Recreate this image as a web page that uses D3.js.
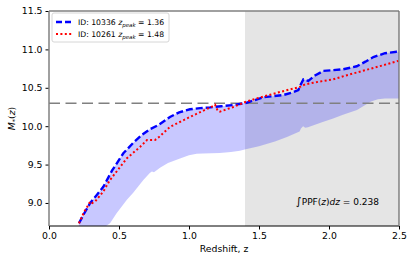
<!DOCTYPE html>
<html lang="en">
<meta charset="utf-8">
<script src="https://d3js.org/d3.v7.min.js"></script>
<style>
  body { margin: 0; background: #fff; }
  text { font-family: "DejaVu Sans", sans-serif; fill: #000; }
  .axis text { font-size: 9.3px; }
</style>
<svg id="base" width="415" height="263"></svg>

<script>
// redshift / stellar mass
var zBlue = [0.214, 0.25, 0.293, 0.34, 0.388, 0.45, 0.531, 0.6, 0.662, 0.72, 0.781, 0.864, 0.93, 1.007, 1.08, 1.15, 1.23, 1.317, 1.412, 1.436, 1.531, 1.6, 1.674, 1.74, 1.781, 1.8, 1.817, 1.835, 1.852, 1.9, 1.96, 2.03, 2.1, 2.198, 2.26, 2.317, 2.4, 2.483, 2.5];
var mBlue = [8.735, 8.86, 8.996, 9.1, 9.21, 9.42, 9.647, 9.78, 9.885, 9.96, 10.015, 10.12, 10.18, 10.22, 10.235, 10.245, 10.26, 10.275, 10.305, 10.32, 10.376, 10.39, 10.406, 10.44, 10.47, 10.55, 10.61, 10.6, 10.59, 10.66, 10.72, 10.73, 10.74, 10.78, 10.84, 10.9, 10.95, 10.97, 10.97];

var zRed = [0.214, 0.25, 0.28, 0.295, 0.31, 0.33, 0.388, 0.436, 0.5, 0.555, 0.65, 0.7, 0.757, 0.786, 0.864, 0.94, 1.007, 1.1, 1.17, 1.186, 1.205, 1.221, 1.317, 1.41, 1.48, 1.579, 1.66, 1.745, 1.79, 1.83, 1.93, 2.03, 2.12, 2.22, 2.36, 2.495];
var mRed = [8.735, 8.88, 8.97, 9.02, 9.0, 9.02, 9.15, 9.3, 9.45, 9.58, 9.73, 9.82, 9.82, 9.86, 9.99, 10.06, 10.12, 10.2, 10.26, 10.28, 10.2, 10.19, 10.25, 10.32, 10.36, 10.41, 10.45, 10.49, 10.51, 10.545, 10.58, 10.61, 10.66, 10.71, 10.78, 10.85];

// lower edge of the shaded band (upper edge is the blue curve)
var zLow = [0.2, 0.3, 0.4, 0.436, 0.483, 0.555, 0.6, 0.674, 0.72, 0.735, 0.75, 0.793, 0.85, 0.936, 1.0, 1.055, 1.1, 1.22, 1.3, 1.364, 1.405, 1.5, 1.614, 1.7, 1.79, 1.8, 1.815, 1.83, 1.85, 1.95, 2.03, 2.1, 2.2, 2.3, 2.35, 2.4, 2.5];
var mLow = [8.15, 8.45, 8.69, 8.735, 8.865, 9.04, 9.13, 9.3, 9.39, 9.41, 9.4, 9.46, 9.52, 9.58, 9.62, 9.64, 9.645, 9.65, 9.665, 9.68, 9.7, 9.74, 9.8, 9.86, 9.93, 9.97, 10.0, 9.98, 9.985, 10.05, 10.1, 10.15, 10.21, 10.32, 10.35, 10.36, 10.36];

var xTicks = [0.0, 0.5, 1.0, 1.5, 2.0, 2.5];
var yTicks = [9.0, 9.5, 10.0, 10.5, 11.0, 11.5];
var zShade = [1.4, 2.5];
var mLimit = 10.3;
var legendIds = ["10336", "10261"];
var legendZpeak = ["1.36", "1.48"];
var ppfValue = "0.238";

var svg = d3.select("#base");
var pL = 49, pR = 399, pT = 11, pB = 226;

var x = d3.scaleLinear().domain([0, 2.5]).range([pL, pR]);
var y = d3.scaleLinear().domain([8.7, 11.5]).range([pB, pT]);

svg.append("clipPath").attr("id", "clip")
    .append("rect").attr("x", pL).attr("y", pT)
    .attr("width", pR - pL).attr("height", pB - pT);

var plot = svg.append("g").attr("clip-path", "url(#clip)");

// grey region past z = 1.4
plot.append("rect")
    .attr("x", x(zShade[0])).attr("y", pT)
    .attr("width", x(zShade[1]) - x(zShade[0])).attr("height", pB - pT)
    .attr("fill", "#e5e5e5");

// band
var upper = zBlue.map(function (z, i) { return [z, mBlue[i]]; });
var lower = zLow.map(function (z, i) { return [z, mLow[i]]; }).reverse();
var line = d3.line().x(function (d) { return x(d[0]); }).y(function (d) { return y(d[1]); });

plot.append("path")
    .attr("d", line(upper.concat(lower)) + "Z")
    .attr("fill", "blue").attr("fill-opacity", 0.215).attr("stroke", "none");

// limit line
plot.append("line")
    .attr("x1", pL).attr("x2", pR)
    .attr("y1", y(mLimit)).attr("y2", y(mLimit))
    .attr("stroke", "#808080").attr("stroke-width", 1.5)
    .attr("stroke-dasharray", "11,5.5");

plot.append("path")
    .attr("d", line(upper))
    .attr("fill", "none").attr("stroke", "blue").attr("stroke-width", 2.4)
    .attr("stroke-dasharray", "7,3");

plot.append("path")
    .attr("d", line(zRed.map(function (z, i) { return [z, mRed[i]]; })))
    .attr("fill", "none").attr("stroke", "red").attr("stroke-width", 2)
    .attr("stroke-dasharray", "2,2.4");

// axes
svg.append("g").attr("class", "axis")
    .attr("transform", "translate(0," + pB + ")")
    .call(d3.axisBottom(x).tickValues(xTicks).tickFormat(d3.format(".1f"))
        .tickSize(3.5).tickSizeOuter(0).tickPadding(3));

svg.append("g").attr("class", "axis")
    .attr("transform", "translate(" + pL + ",0)")
    .call(d3.axisLeft(y).tickValues(yTicks).tickFormat(d3.format(".1f"))
        .tickSize(3.5).tickSizeOuter(0).tickPadding(3));

svg.selectAll(".axis .domain").remove();

// spines
svg.append("line").attr("x1", pL).attr("x2", pR).attr("y1", pB).attr("y2", pB)
    .attr("stroke", "#000").attr("stroke-width", 1);
svg.append("line").attr("x1", pL).attr("x2", pR).attr("y1", pT).attr("y2", pT)
    .attr("stroke", "#808080").attr("stroke-width", 1.3);
svg.append("line").attr("x1", pL).attr("x2", pL).attr("y1", pT).attr("y2", pB)
    .attr("stroke", "#808080").attr("stroke-width", 1.5);
svg.append("line").attr("x1", pR).attr("x2", pR).attr("y1", pT).attr("y2", pB)
    .attr("stroke", "#707070").attr("stroke-width", 1.3);

// labels
svg.append("text")
    .attr("x", (pL + pR) / 2).attr("y", 252)
    .attr("text-anchor", "middle").style("font-size", "9.3px")
    .text("Redshift, z");

var yl = svg.append("text")
    .attr("transform", "translate(15," + ((pT + pB) / 2) + ") rotate(-90)")
    .attr("text-anchor", "middle").style("font-size", "9.3px");
yl.append("tspan").style("font-style", "italic").text("M");
yl.append("tspan").attr("dy", 2).style("font-size", "6.5px").text("*");
yl.append("tspan").attr("dy", -2).text("(");
yl.append("tspan").style("font-style", "italic").text("z");
yl.append("tspan").text(")");

// legend
var lg = svg.append("g");
lg.append("rect").attr("x", 52).attr("y", 13).attr("width", 117).attr("height", 29)
    .attr("rx", 2).attr("fill", "#fff").attr("fill-opacity", 0.8)
    .attr("stroke", "#cccccc").attr("stroke-width", 0.8);

var styles = [
    { color: "blue", dash: "6,3", w: 2.4 },
    { color: "red", dash: "2,2.4", w: 2 }
];
legendIds.forEach(function (id, i) {
    var cy = 22 + i * 12;
    lg.append("line").attr("x1", 56).attr("x2", 72).attr("y1", cy).attr("y2", cy)
        .attr("stroke", styles[i].color).attr("stroke-width", styles[i].w)
        .attr("stroke-dasharray", styles[i].dash);
    var t = lg.append("text").attr("x", 78).attr("y", cy + 3).style("font-size", "7.7px");
    t.append("tspan").text("ID: " + id + " ");
    t.append("tspan").style("font-style", "italic").text("z");
    t.append("tspan").attr("dy", 1.5).style("font-style", "italic").style("font-size", "5.5px").text("peak");
    t.append("tspan").attr("dy", -1.5).text(" =  " + legendZpeak[i]);
});

// integral annotation
var ann = svg.append("text").attr("x", 296).attr("y", 205).style("font-size", "9px");
ann.append("tspan").style("font-size", "11px").text("\u222B");
ann.append("tspan").text("PPF(");
ann.append("tspan").style("font-style", "italic").text("z");
ann.append("tspan").text(")");
ann.append("tspan").style("font-style", "italic").text("dz");
ann.append("tspan").text(" = " + ppfValue);
</script>
</html>
